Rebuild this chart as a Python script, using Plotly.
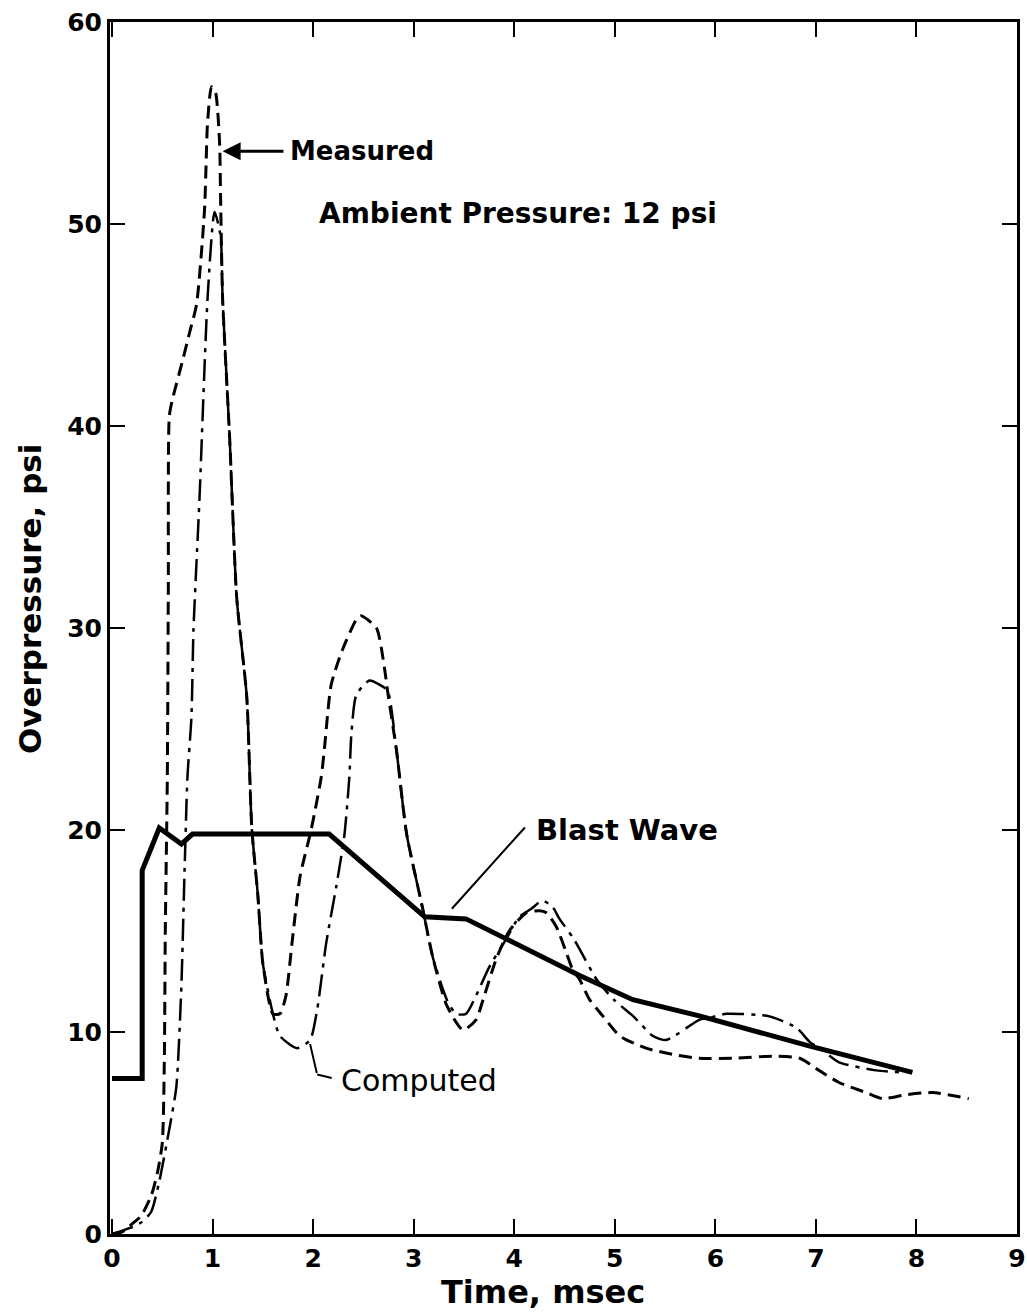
import plotly.graph_objects as go

# ---- data ----
measured_t = [0.0, 0.1, 0.2, 0.29, 0.39, 0.45, 0.5, 0.52, 0.53, 0.55, 0.56, 0.57, 0.6, 0.7, 0.77, 0.84,
              0.92, 0.95, 0.99, 1.03, 1.07, 1.08, 1.10, 1.17, 1.24, 1.34, 1.39, 1.45, 1.50, 1.60, 1.67,
              1.73, 1.79, 1.87, 1.98, 2.08, 2.11, 2.18, 2.29, 2.44, 2.48, 2.63, 2.71, 2.74, 2.83, 2.93,
              3.09, 3.19, 3.33, 3.49, 3.62, 3.69, 3.82, 3.95, 4.12, 4.25, 4.32, 4.42, 4.52, 4.58, 4.65,
              4.75, 4.88, 5.05, 5.31, 5.57, 5.84, 6.17, 6.57, 6.84, 7.0, 7.23, 7.5, 7.66, 7.9, 8.16, 8.52]
measured_p = [0.0, 0.1, 0.5, 0.9, 1.9, 3.0, 4.5, 8.5, 15.0, 22.6, 32.0, 40.5, 41.3, 43.2, 44.6, 46.0,
              50.7, 55.0, 56.8, 56.5, 54.0, 51.2, 46.3, 39.4, 31.5, 26.6, 20.1, 16.8, 13.4, 10.9, 10.9,
              11.8, 14.4, 17.7, 20.0, 22.6, 23.9, 27.2, 28.9, 30.5, 30.6, 30.0, 28.0, 26.9, 23.9, 19.8,
              16.1, 13.7, 11.3, 10.1, 10.6, 11.6, 13.6, 15.0, 15.9, 16.0, 15.9, 15.2, 13.9, 13.1, 12.6,
              11.6, 10.8, 9.8, 9.2, 8.9, 8.7, 8.7, 8.8, 8.7, 8.2, 7.5, 7.0, 6.7, 6.9, 7.0, 6.7]

computed_t = [0.0, 0.18, 0.3, 0.39, 0.47, 0.57, 0.64, 0.69, 0.72, 0.75, 0.79, 0.81, 0.87, 0.95, 1.02,
              1.08, 1.10, 1.17, 1.24, 1.34, 1.39, 1.45, 1.50, 1.60, 1.67, 1.84, 1.97, 2.04, 2.13, 2.23,
              2.31, 2.36, 2.38, 2.43, 2.56, 2.66, 2.74, 2.83, 2.93, 3.09, 3.19, 3.33, 3.42, 3.52, 3.62,
              3.75, 3.92, 4.05, 4.17, 4.28, 4.38, 4.45, 4.58, 4.65, 4.82, 4.99, 5.18, 5.38, 5.51, 5.84,
              5.94, 6.11, 6.51, 6.64, 6.81, 6.94, 7.04, 7.23, 7.6, 7.85]
computed_p = [0.0, 0.3, 0.6, 1.1, 2.6, 5.2, 7.3, 12.3, 17.7, 22.6, 25.6, 29.9, 36.4, 46.3, 50.6,
              49.4, 46.3, 39.4, 31.5, 26.6, 20.1, 16.8, 13.4, 10.9, 9.8, 9.2, 9.6, 11.1, 14.4, 17.2,
              19.7, 22.6, 24.7, 26.7, 27.4, 27.2, 26.9, 23.9, 19.8, 16.1, 13.7, 11.6, 10.9, 10.9, 11.8,
              13.2, 14.6, 15.7, 16.1, 16.5, 16.2, 15.6, 14.7, 14.1, 12.6, 11.6, 10.8, 9.8, 9.6, 10.6,
              10.7, 10.9, 10.8, 10.6, 10.2, 9.5, 9.2, 8.5, 8.1, 8.0]

blast_t = [0.0, 0.30, 0.30, 0.47, 0.69, 0.80, 2.16, 3.11, 3.52, 3.92, 4.65, 5.18, 5.84, 6.94, 7.96]
blast_p = [7.7, 7.7, 18.0, 20.1, 19.3, 19.8, 19.8, 15.7, 15.6, 14.6, 12.8, 11.6, 10.8, 9.3, 8.0]

x_ticks = [0, 1, 2, 3, 4, 5, 6, 7, 8, 9]
y_ticks = [0, 10, 20, 30, 40, 50, 60]

FONT = "DejaVu Sans"

fig = go.Figure()
fig.add_trace(go.Scatter(x=measured_t, y=measured_p, mode="lines", name="Measured",
                         line=dict(color="black", width=3, dash="13px,7px", shape="spline", smoothing=0.6)))
fig.add_trace(go.Scatter(x=computed_t, y=computed_p, mode="lines", name="Computed",
                         line=dict(color="black", width=2.5, dash="22px,7px,4px,7px", shape="spline", smoothing=0.6)))
fig.add_trace(go.Scatter(x=blast_t, y=blast_p, mode="lines", name="Blast Wave",
                         line=dict(color="black", width=5)))

annotations = [
    # Measured label with arrow
    dict(x=1.75, y=53.6, xref="x", yref="y", text="<b>Measured</b>", showarrow=False,
         xanchor="left", yanchor="middle", font=dict(family=FONT, size=26, color="black")),
    dict(x=1.10, y=53.6, xref="x", yref="y", ax=1.72, ay=53.6, axref="x", ayref="y",
         text="", showarrow=True, arrowhead=2, arrowsize=1.2, arrowwidth=3, arrowcolor="black"),
    dict(x=2.04, y=50.5, xref="x", yref="y", text="<b>Ambient Pressure: 12 psi</b>", showarrow=False,
         xanchor="left", yanchor="middle", font=dict(family=FONT, size=28, color="black")),
    # Blast wave label
    dict(x=4.2, y=20.0, xref="x", yref="y", text="<b>Blast Wave</b>", showarrow=False,
         xanchor="left", yanchor="middle", font=dict(family=FONT, size=29, color="black")),
    dict(x=3.38, y=16.1, xref="x", yref="y", ax=4.12, ay=20.2, axref="x", ayref="y",
         text="", showarrow=True, arrowhead=0, arrowwidth=2, arrowcolor="black"),
    # Computed label
    dict(x=2.26, y=7.6, xref="x", yref="y", text="Computed", showarrow=False,
         xanchor="left", yanchor="middle", font=dict(family=FONT, size=30, color="black")),
    dict(x=1.97, y=9.4, xref="x", yref="y", ax=2.04, ay=7.9, axref="x", ayref="y",
         text="", showarrow=True, arrowhead=0, arrowwidth=2, arrowcolor="black"),
    dict(x=2.04, y=7.9, xref="x", yref="y", ax=2.2, ay=7.7, axref="x", ayref="y",
         text="", showarrow=True, arrowhead=0, arrowwidth=2, arrowcolor="black"),
    # axis titles
    dict(x=0.477, y=-0.048, xref="paper", yref="paper", text="<b>Time, msec</b>", showarrow=False,
         xanchor="center", yanchor="middle", font=dict(family=FONT, size=32, color="black")),
    dict(x=-0.088, y=0.524, xref="paper", yref="paper", text="<b>Overpressure, psi</b>", showarrow=False,
         textangle=-90, xanchor="center", yanchor="middle", font=dict(family=FONT, size=31, color="black")),
]

axis_common = dict(showline=True, linewidth=3, linecolor="black", mirror="ticks",
                   ticks="inside", ticklen=15, tickwidth=2, tickcolor="black",
                   showgrid=False, zeroline=False, automargin=False, ticklabeloverflow="allow",
                   tickfont=dict(family=FONT, size=25, color="black"))

fig.update_layout(
    width=1027, height=1314,
    margin=dict(l=110, r=10, t=22, b=80),
    paper_bgcolor="white", plot_bgcolor="white",
    showlegend=False,
    annotations=annotations,
    xaxis=dict(range=[-0.02, 9.0], tickvals=x_ticks, ticktext=["<b>%d</b>" % v for v in x_ticks], **axis_common),
    yaxis=dict(range=[0, 60], tickvals=y_ticks, ticktext=["<b>%d</b>" % v for v in y_ticks], **axis_common),
)

fig.write_html("out.html", config={"displayModeBar": False},
               post_script="document.body.style.margin='0';")
